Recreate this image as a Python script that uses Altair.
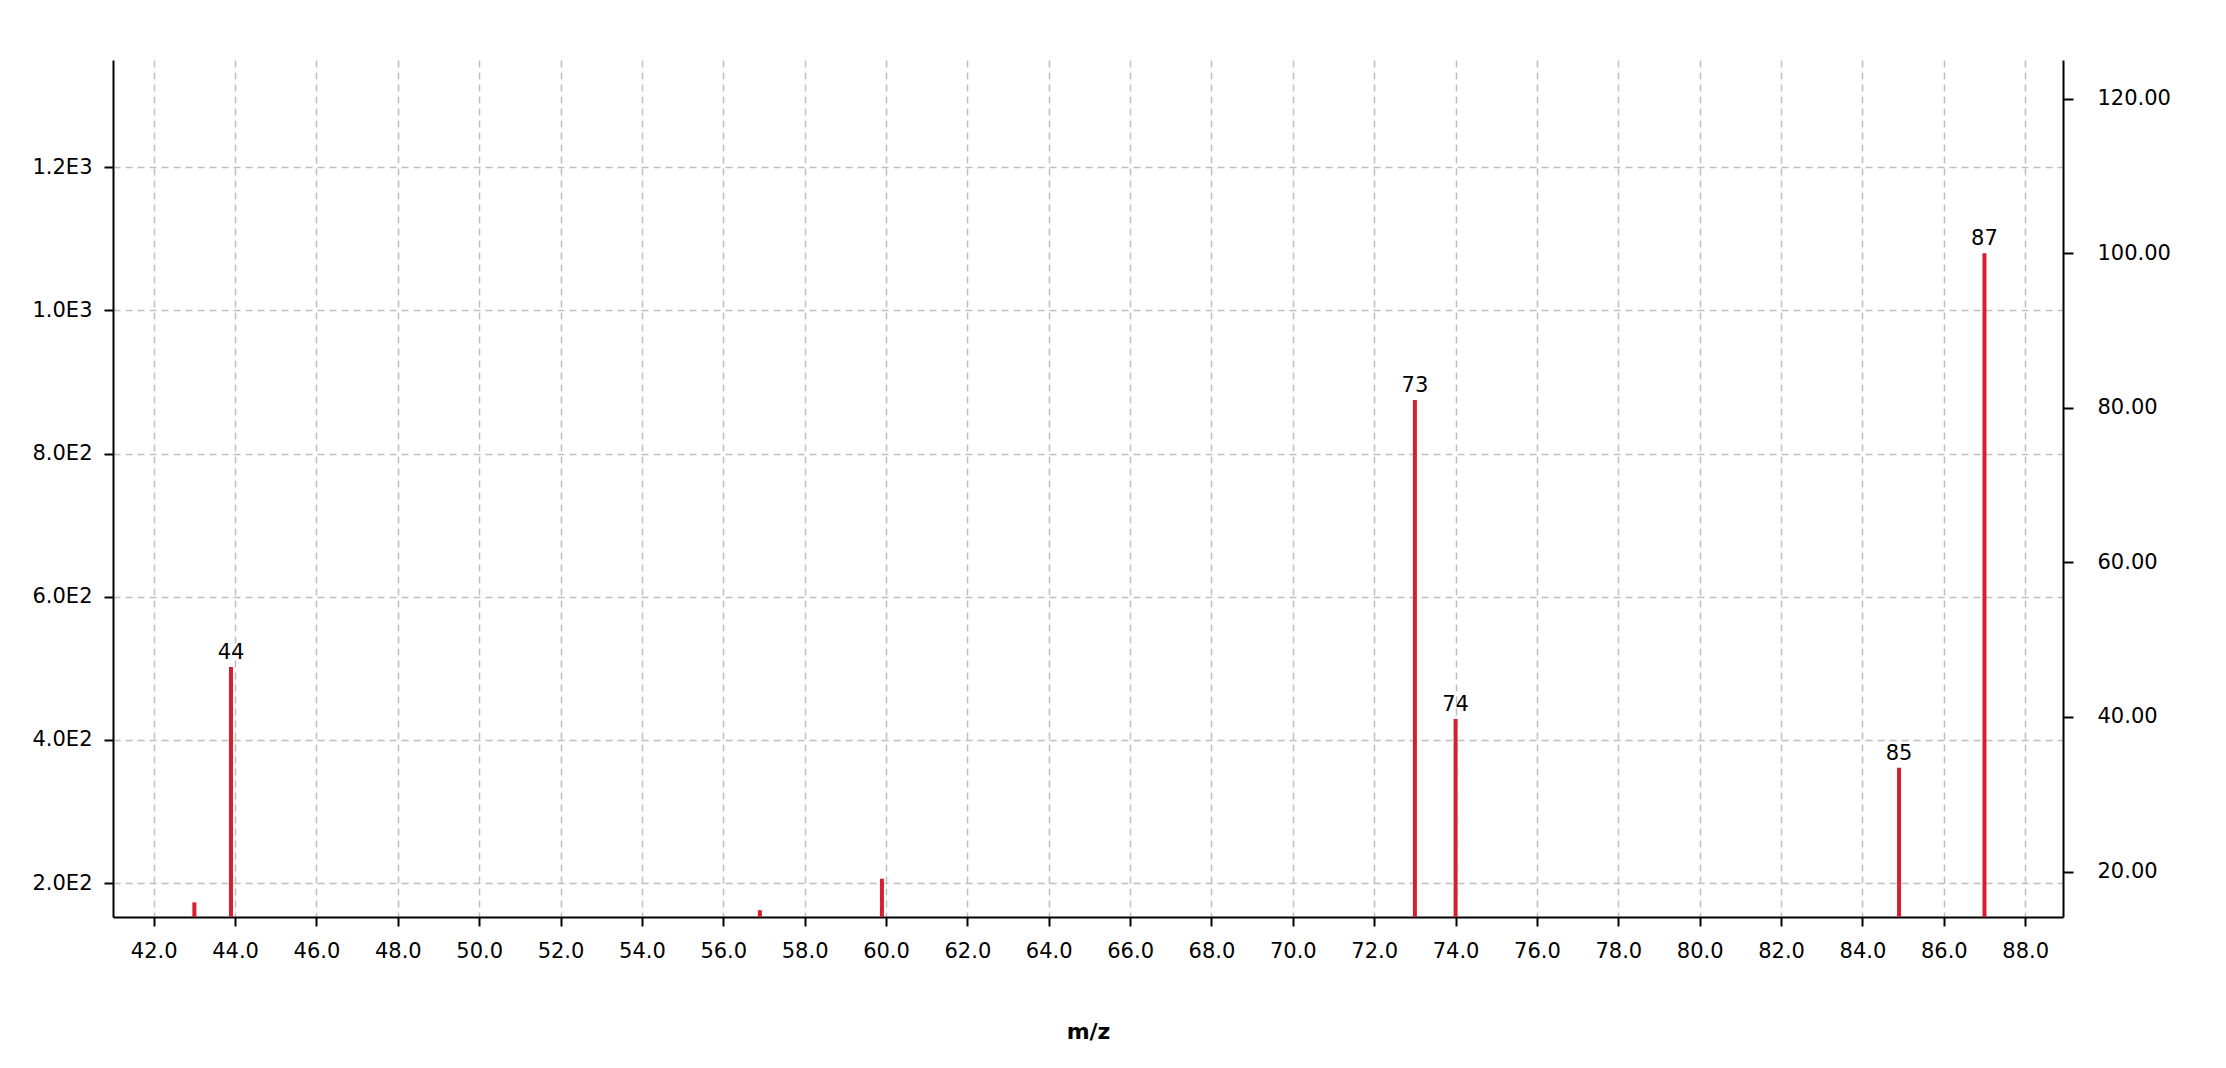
import altair as alt
import pandas as pd

# ---- data ----
mz = [43.0, 43.9, 56.9, 59.9, 73.0, 74.0, 84.9, 87.0]
intensity = [173, 502, 162, 206, 875, 429, 361, 1080]
peak_labels = ["", "44", "", "", "73", "74", "85", "87"]

x_ticks = [42.0, 44.0, 46.0, 48.0, 50.0, 52.0, 54.0, 56.0, 58.0, 60.0, 62.0, 64.0,
           66.0, 68.0, 70.0, 72.0, 74.0, 76.0, 78.0, 80.0, 82.0, 84.0, 86.0, 88.0]
left_ticks = [200, 400, 600, 800, 1000, 1200]
right_ticks = [20, 40, 60, 80, 100, 120]

x_domain = [41.0, 88.93]
left_domain = [152.5, 1350]
base_peak = max(intensity)
right_domain = [left_domain[0] / base_peak * 100, left_domain[1] / base_peak * 100]

df = pd.DataFrame({"mz": mz, "intensity": intensity, "label": peak_labels})
df["pct"] = df["intensity"] / base_peak * 100

W, H = 1950, 857
RED = "#d71f2f"
FONT = "DejaVu Sans"

x_enc = alt.X(
    "mz:Q",
    scale=alt.Scale(domain=x_domain, nice=False, zero=False),
    axis=alt.Axis(values=x_ticks, format=".1f", title="m/z",
                  labelPadding=14, titlePadding=60,
                  titleFontWeight="bold", titleFontSize=22),
)

bars = alt.Chart(df).mark_rule(color=RED, strokeWidth=4).encode(
    x=x_enc,
    y=alt.Y(
        "intensity:Q",
        scale=alt.Scale(domain=left_domain, nice=False, zero=False),
        axis=alt.Axis(
            orient="left", values=left_ticks, title=None, labelPadding=12,
            labelExpr="format(datum.value / pow(10, floor(log(datum.value) / LN10 + 1e-9)), '.1f') + 'E' + floor(log(datum.value) / LN10 + 1e-9)",
        ),
    ),
    y2=alt.value(H),
)

labels = alt.Chart(df).transform_filter("datum.label != ''").mark_text(
    baseline="bottom", dy=-4, font=FONT, fontSize=21, color="black"
).encode(
    x=alt.X("mz:Q", scale=alt.Scale(domain=x_domain, nice=False, zero=False)),
    y=alt.Y("intensity:Q", scale=alt.Scale(domain=left_domain, nice=False, zero=False), axis=None),
    text="label:N",
)

right = alt.Chart(df).mark_rule(opacity=0).encode(
    x=alt.X("mz:Q", scale=alt.Scale(domain=x_domain, nice=False, zero=False)),
    y=alt.Y(
        "pct:Q",
        scale=alt.Scale(domain=right_domain, nice=False, zero=False),
        axis=alt.Axis(orient="right", values=right_ticks, format=".2f",
                      title=None, labelPadding=24, tickSize=10),
    ),
    y2=alt.value(H),
)

chart = alt.layer(bars, labels, right).resolve_scale(y="independent").properties(
    width=W, height=H,
    autosize=alt.AutoSizeParams(type="none"),
    padding={"left": 105, "top": 52, "right": 150, "bottom": 140},
).configure_view(stroke=None).configure_axis(
    labelFont=FONT, titleFont=FONT, labelFontSize=21, labelColor="black",
    titleColor="black",
    domainColor="black", domainWidth=2, tickColor="black", tickWidth=2, tickSize=9,
    grid=True, gridColor="#bfbfbf", gridDash=[7, 5], gridWidth=1.5,
)

chart.save("out.html", embed_options={"renderer": "svg", "actions": False})
